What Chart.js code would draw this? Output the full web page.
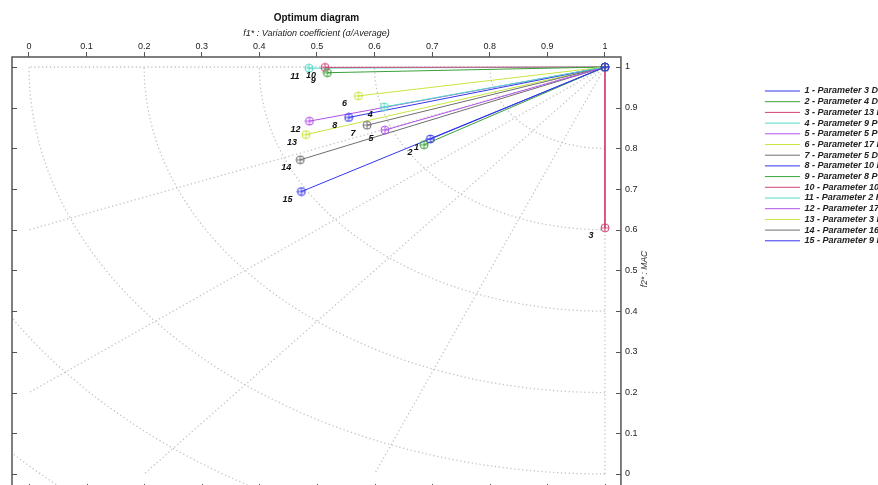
<!DOCTYPE html>
<html>
<head>
<meta charset="utf-8">
<script src="https://cdn.jsdelivr.net/npm/chart.js@4.4.1/dist/chart.umd.min.js"></script>
<style>
  html, body { margin: 0; padding: 0; background: #fff; overflow: hidden; }
  #wrap { width: 898px; height: 500px; }
</style>
</head>
<body>
<div id="wrap"><canvas id="myChart" width="898" height="500"></canvas></div>
<script>
// series: f1* (x) and f2* (y) of each parameter
const seriesNames = [
  "1 - Parameter 3 D", "2 - Parameter 4 D", "3 - Parameter 13 K", "4 - Parameter 9 P",
  "5 - Parameter 5 P", "6 - Parameter 17 D", "7 - Parameter 5 D", "8 - Parameter 10 D",
  "9 - Parameter 8 P", "10 - Parameter 10 P", "11 - Parameter 2 K", "12 - Parameter 17 K",
  "13 - Parameter 3 P", "14 - Parameter 16 K", "15 - Parameter 9 K"
];
const pointLabels = ["1", "2", "3", "4", "5", "6", "7", "8", "9", "10", "11", "12", "13", "14", "15"];
const seriesF1 = [0.697, 0.686, 1.0, 0.617, 0.618, 0.572, 0.587, 0.555, 0.518, 0.514, 0.486, 0.487, 0.481, 0.471, 0.473];
const seriesF2 = [0.823, 0.809, 0.605, 0.902, 0.845, 0.929, 0.857, 0.876, 0.986, 0.999, 0.997, 0.867, 0.834, 0.772, 0.694];
const optimumF1 = 1;
const optimumF2 = 1;

const xTicks = [0, 0.1, 0.2, 0.3, 0.4, 0.5, 0.6, 0.7, 0.8, 0.9, 1];
const xTickLabels = ["0", "0.1", "0.2", "0.3", "0.4", "0.5", "0.6", "0.7", "0.8", "0.9", "1"];
const yTicks = [0, 0.1, 0.2, 0.3, 0.4, 0.5, 0.6, 0.7, 0.8, 0.9, 1];
const yTickLabels = ["0", "0.1", "0.2", "0.3", "0.4", "0.5", "0.6", "0.7", "0.8", "0.9", "1"];

// dotted polar grid around the optimum point
const gridRadii = [0.2, 0.4, 0.6, 0.8, 1.0, 1.2, 1.4];
const gridRayEndsF1 = [0, 0, 0, 0.2, 0.6, 1];
const gridRayEndsF2 = [1, 0.6, 0.2, 0, 0, 0];

const palette = ["#3535ee", "#38a038", "#d04474", "#52dcc8", "#b052e8", "#c8e642", "#6e6e6e"];

const makeMarker = (color) => {
  const c = document.createElement("canvas");
  c.width = 10;
  c.height = 10;
  const g = c.getContext("2d");
  g.strokeStyle = color;
  g.lineWidth = 1;
  g.beginPath();
  g.arc(5, 5, 4, 0, Math.PI * 2);
  g.moveTo(1, 5);
  g.lineTo(9, 5);
  g.moveTo(5, 1);
  g.lineTo(5, 9);
  g.stroke();
  return c;
};
const markers = palette.map(makeMarker);

const polarGrid = {
  id: "polarGrid",
  beforeDatasetsDraw(chart) {
    const { ctx, chartArea, scales } = chart;
    const x = scales.x, y = scales.y;
    const cx = x.getPixelForValue(optimumF1);
    const cy = y.getPixelForValue(optimumF2);
    ctx.save();
    ctx.beginPath();
    ctx.rect(chartArea.left, chartArea.top, chartArea.right - chartArea.left, chartArea.bottom - chartArea.top);
    ctx.clip();
    ctx.strokeStyle = "#c4c4c4";
    ctx.lineWidth = 1.3;
    ctx.setLineDash([1.3, 2.6]);
    for (let i = 0; i < gridRayEndsF1.length; i++) {
      ctx.beginPath();
      ctx.moveTo(cx, cy);
      ctx.lineTo(x.getPixelForValue(gridRayEndsF1[i]), y.getPixelForValue(gridRayEndsF2[i]));
      ctx.stroke();
    }
    gridRadii.forEach((r) => {
      const rx = cx - x.getPixelForValue(optimumF1 - r);
      const ry = y.getPixelForValue(optimumF2 - r) - cy;
      ctx.beginPath();
      ctx.ellipse(cx, cy, rx, ry, 0, Math.PI / 2, Math.PI);
      ctx.stroke();
    });
    ctx.restore();
  },
};

const frameAndLabels = {
  id: "frameAndLabels",
  afterDatasetsDraw(chart) {
    const { ctx, chartArea, scales } = chart;
    const { left, right, top, bottom } = chartArea;
    ctx.save();
    // point numbers
    ctx.fillStyle = "#111";
    ctx.font = "italic bold 9px 'Liberation Sans', Arial, sans-serif";
    ctx.textAlign = "center";
    ctx.textBaseline = "middle";
    chart.data.datasets.forEach((ds, i) => {
      const pt = chart.getDatasetMeta(i).data[1];
      ctx.fillText(pointLabels[i], pt.x - 14, pt.y + 8);
    });
    // frame + inward ticks
    ctx.strokeStyle = "#555";
    ctx.lineWidth = 1.5;
    ctx.strokeRect(left, top, right - left, bottom - top);
    ctx.lineWidth = 1;
    ctx.beginPath();
    yTicks.forEach((v) => {
      const py = Math.round(scales.y.getPixelForValue(v)) + 0.5;
      ctx.moveTo(left, py);
      ctx.lineTo(left + 5, py);
      ctx.moveTo(right, py);
      ctx.lineTo(right - 5, py);
    });
    xTicks.forEach((v) => {
      const px = Math.round(scales.x.getPixelForValue(v)) + 0.5;
      ctx.moveTo(px, bottom);
      ctx.lineTo(px, bottom - 5);
    });
    ctx.stroke();
    // right axis title, reading upwards
    ctx.translate(right + 24, (top + bottom) / 2 - 4);
    ctx.rotate(-Math.PI / 2);
    ctx.fillStyle = "#333";
    ctx.font = "italic 8.5px 'Liberation Sans', Arial, sans-serif";
    ctx.fillText("f2* : MAC", 0, 0);
    ctx.restore();
  },
};

const ctx = document.getElementById("myChart").getContext("2d");

const data = {
  datasets: seriesNames.map((name, i) => ({
    label: name,
    data: [
      { x: optimumF1, y: optimumF2 },
      { x: seriesF1[i], y: seriesF2[i] },
    ],
    showLine: true,
    borderColor: palette[i % palette.length],
    backgroundColor: palette[i % palette.length],
    borderWidth: 1,
    pointStyle: markers[i % markers.length],
    pointRadius: 4,
  })),
};

const config = {
  type: "scatter",
  data: data,
  plugins: [polarGrid, frameAndLabels],
  options: {
    responsive: false,
    animation: false,
    events: [],
    layout: { padding: { left: 12, right: 0, top: 0, bottom: 11 } },
    scales: {
      x: {
        type: "linear",
        position: "top",
        min: -0.0295,
        max: 1.0278,
        afterBuildTicks: (scale) => {
          scale.ticks = xTicks.map((v) => ({ value: v }));
        },
        afterFit: (scale) => {
          scale.height = 31;
        },
        ticks: {
          callback: (value, index) => xTickLabels[index],
          font: { size: 9, family: "'Liberation Sans', Arial, sans-serif" },
          color: "#222",
          padding: 0,
          maxRotation: 0,
        },
        grid: { drawOnChartArea: false, drawTicks: true, tickLength: 5, color: "#555" },
        border: { display: false },
        title: {
          display: true,
          text: "f1* : Variation coefficient (\u03c3/Average)",
          font: { size: 9, style: "italic", family: "'Liberation Sans', Arial, sans-serif" },
          color: "#222",
          padding: { top: 2, bottom: 0 },
        },
      },
      y: {
        type: "linear",
        position: "right",
        min: -0.0369,
        max: 1.0246,
        afterBuildTicks: (scale) => {
          scale.ticks = yTicks.map((v) => ({ value: v }));
        },
        afterFit: (scale) => {
          scale.width = 142.3;
        },
        ticks: {
          callback: (value, index) => yTickLabels[index],
          font: { size: 9, family: "'Liberation Sans', Arial, sans-serif" },
          color: "#222",
          padding: 4,
        },
        grid: { drawOnChartArea: false, drawTicks: false },
        border: { display: false },
      },
    },
    plugins: {
      title: {
        display: true,
        text: "Optimum diagram",
        fullSize: false,
        color: "#111",
        font: { size: 10, weight: "bold", family: "'Liberation Sans', Arial, sans-serif" },
        padding: { top: 12, bottom: 2 },
      },
      legend: {
        position: "right",
        align: "start",
        fullSize: false,
        title: { display: true, text: "", font: { size: 10 }, padding: { top: 0, bottom: 15.8 } },
        labels: {
          usePointStyle: true,
          pointStyle: "line",
          pointStyleWidth: 35,
          padding: 1.7,
          color: "#222",
          font: { size: 9, style: "italic", weight: "bold", family: "'Liberation Sans', Arial, sans-serif" },
        },
      },
      tooltip: { enabled: false },
    },
  },
};

const myChart = new Chart(ctx, config);
</script>
</body>
</html>
